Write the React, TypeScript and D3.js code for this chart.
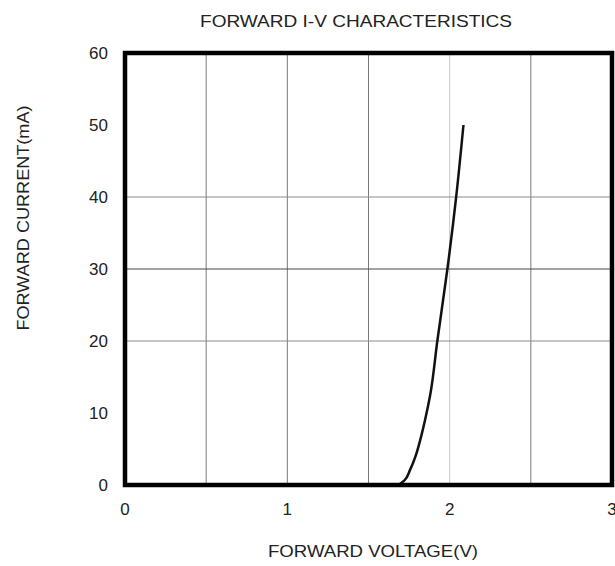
import React, { useRef, useEffect } from 'react';
import * as d3 from 'd3';

// forward voltage (V) vs forward current (mA)
const voltage = [1.684, 1.72, 1.756, 1.79, 1.818, 1.848, 1.88, 1.924, 1.986, 2.04, 2.085];
const current = [0, 0.6, 2.1, 4.0, 6.2, 9.0, 12.5, 20, 30, 40, 50];

const xTicks = [0, 1, 2, 3];
const yTicks = [0, 10, 20, 30, 40, 50, 60];
const xGrid = [0.5, 1, 1.5, 2, 2.5];
const yGrid = [20, 30, 40];

const FONT = '"Liberation Sans", Arial, sans-serif';

const App: React.FC = () => {
  const svgRef = useRef<SVGSVGElement>(null);
  const width = 615;
  const height = 566;

  useEffect(() => {
    if (!svgRef.current) return;
    const svg = d3.select(svgRef.current);
    svg.selectAll('*').remove();

    const margin = { top: 53, right: 3, bottom: 81, left: 125 };

    const x = d3.scaleLinear().domain([0, 3]).range([margin.left, width - margin.right]);
    const y = d3.scaleLinear().domain([0, 60]).range([height - margin.bottom, margin.top]);

    // grid
    svg
      .append('g')
      .selectAll('line')
      .data(xGrid)
      .enter()
      .append('line')
      .attr('x1', (d) => x(d))
      .attr('x2', (d) => x(d))
      .attr('y1', y(60))
      .attr('y2', y(0))
      .attr('stroke', (d) => (d === 2 ? '#c8c8c8' : '#7a7a7a'))
      .attr('stroke-width', 1);

    svg
      .append('g')
      .selectAll('line')
      .data(yGrid)
      .enter()
      .append('line')
      .attr('x1', x(0))
      .attr('x2', x(3))
      .attr('y1', (d) => y(d))
      .attr('y2', (d) => y(d))
      .attr('stroke', (d) => (d === 30 ? '#444' : '#8a8a8a'))
      .attr('stroke-width', 1);

    // curve
    const line = d3
      .line<number>()
      .x((d, i) => x(voltage[i]))
      .y((d) => y(d))
      .curve(d3.curveMonotoneY);

    svg
      .append('path')
      .datum(current)
      .attr('d', line)
      .attr('fill', 'none')
      .attr('stroke', '#111')
      .attr('stroke-width', 2.5);

    // frame
    svg
      .append('rect')
      .attr('x', x(0))
      .attr('y', y(60))
      .attr('width', x(3) - x(0))
      .attr('height', y(0) - y(60))
      .attr('fill', 'none')
      .attr('stroke', '#000')
      .attr('stroke-width', 4.5);

    // tick labels
    svg
      .append('g')
      .selectAll('text')
      .data(yTicks)
      .enter()
      .append('text')
      .attr('x', 108)
      .attr('y', (d) => y(d) + 6)
      .attr('text-anchor', 'end')
      .attr('font-family', FONT)
      .attr('font-size', '17px')
      .attr('fill', '#222')
      .text((d) => d);

    svg
      .append('g')
      .selectAll('text')
      .data(xTicks)
      .enter()
      .append('text')
      .attr('x', (d) => x(d))
      .attr('y', 515)
      .attr('text-anchor', 'middle')
      .attr('font-family', FONT)
      .attr('font-size', '17px')
      .attr('fill', '#222')
      .text((d) => d);

    // titles
    svg
      .append('text')
      .attr('x', 356)
      .attr('y', 27)
      .attr('text-anchor', 'middle')
      .attr('font-family', FONT)
      .attr('font-size', '17px')
      .attr('textLength', 312)
      .attr('lengthAdjust', 'spacingAndGlyphs')
      .attr('fill', '#222')
      .text('FORWARD I-V CHARACTERISTICS');

    svg
      .append('text')
      .attr('x', 373)
      .attr('y', 557)
      .attr('text-anchor', 'middle')
      .attr('font-family', FONT)
      .attr('font-size', '17px')
      .attr('textLength', 210)
      .attr('lengthAdjust', 'spacingAndGlyphs')
      .attr('fill', '#222')
      .text('FORWARD VOLTAGE(V)');

    svg
      .append('text')
      .attr('transform', 'translate(29,218) rotate(-90)')
      .attr('text-anchor', 'middle')
      .attr('font-family', FONT)
      .attr('font-size', '17px')
      .attr('textLength', 225)
      .attr('lengthAdjust', 'spacingAndGlyphs')
      .attr('fill', '#222')
      .text('FORWARD CURRENT(mA)');
  }, []);

  return (
    <svg
      ref={svgRef}
      width={width}
      height={height}
      style={{ position: 'absolute', left: 0, top: 0, background: '#fff' }}
    />
  );
};

export default App;
